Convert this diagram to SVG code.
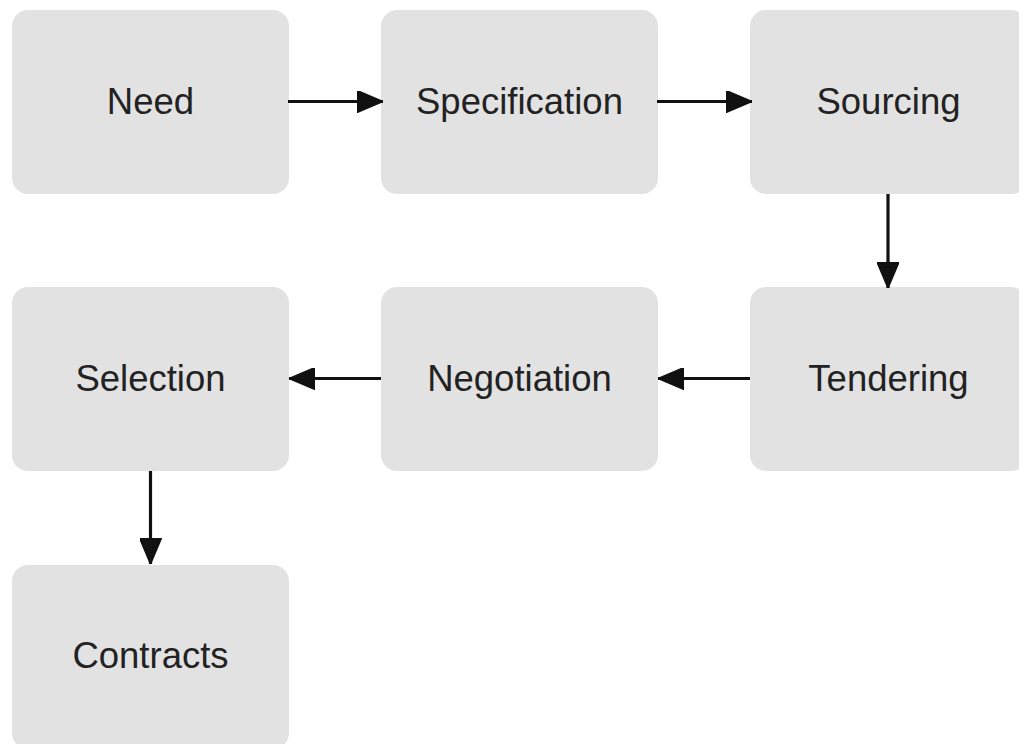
<svg xmlns="http://www.w3.org/2000/svg" width="1019" height="744" viewBox="0 0 1019 744">
<defs>
<style>
.box{fill:#e2e2e2;}
.lbl{font-family:"Liberation Sans",Arial,sans-serif;font-size:36.5px;fill:#222;text-anchor:middle;}
.con{stroke:#111;stroke-width:3.2;fill:none;}
</style>
<marker id="ah" viewBox="0 0 26 22" refX="26" refY="11" markerWidth="26" markerHeight="22" markerUnits="userSpaceOnUse" orient="auto">
<path d="M0,0 L26,11 L0,22 Z" fill="#111" stroke="#111" stroke-width="1.5" stroke-linejoin="round"/>
</marker>
</defs>
<rect width="1019" height="744" fill="#fff"/>
<g id="need"><rect class="box" x="12" y="10" width="277" height="184" rx="16"/><text class="lbl" x="150.5" y="114">Need</text></g>
<g id="specification"><rect class="box" x="381" y="10" width="277" height="184" rx="16"/><text class="lbl" x="519.5" y="114">Specification</text></g>
<g id="sourcing"><rect class="box" x="750" y="10" width="277" height="184" rx="16"/><text class="lbl" x="888.5" y="114">Sourcing</text></g>
<g id="selection"><rect class="box" x="12" y="287" width="277" height="184" rx="16"/><text class="lbl" x="150.5" y="391">Selection</text></g>
<g id="negotiation"><rect class="box" x="381" y="287" width="277" height="184" rx="16"/><text class="lbl" x="519.5" y="391">Negotiation</text></g>
<g id="tendering"><rect class="box" x="750" y="287" width="277" height="184" rx="16"/><text class="lbl" x="888.5" y="391">Tendering</text></g>
<g id="contracts"><rect class="box" x="12" y="565" width="277" height="184" rx="16"/><text class="lbl" x="150.5" y="668">Contracts</text></g>
<g id="connectors">
<line class="con" x1="288" y1="101.5" x2="383" y2="101.5" marker-end="url(#ah)"/>
<line class="con" x1="657" y1="101.5" x2="752" y2="101.5" marker-end="url(#ah)"/>
<line class="con" x1="888" y1="194" x2="888" y2="288" marker-end="url(#ah)"/>
<line class="con" x1="750" y1="378.5" x2="658" y2="378.5" marker-end="url(#ah)"/>
<line class="con" x1="381" y1="378.5" x2="289" y2="378.5" marker-end="url(#ah)"/>
<line class="con" x1="150.5" y1="471" x2="150.5" y2="564" marker-end="url(#ah)"/>
</g>
</svg>
